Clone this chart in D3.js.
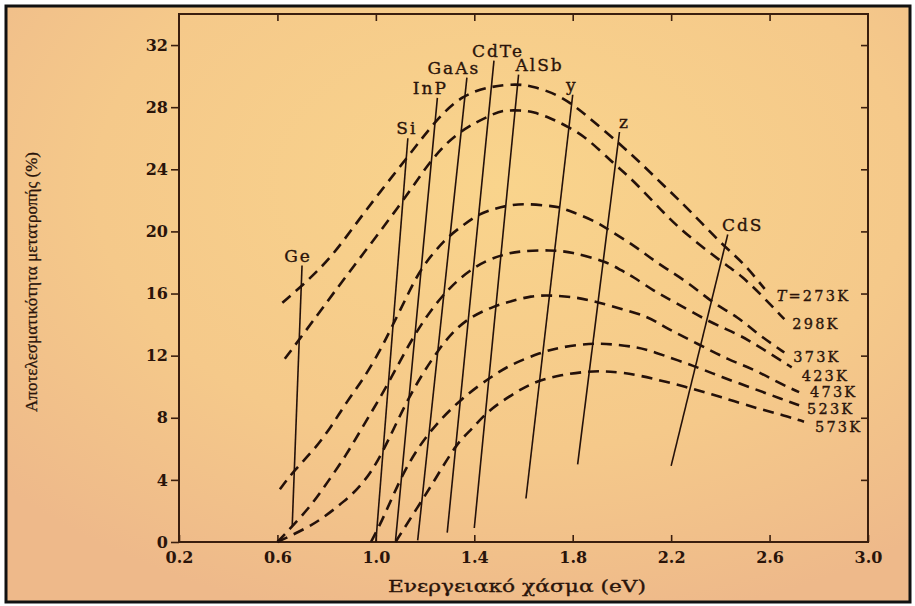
<!DOCTYPE html>
<html>
<head>
<meta charset="utf-8">
<script src="https://d3js.org/d3.v7.min.js"></script>
<style>
  body { margin: 0; background: #fff; }
  svg { display: block; }
  .axis text { font-family: "DejaVu Serif", serif; font-size: 16px; font-weight: bold; fill: #2a140a; }
  .axis line { stroke: #3a1e0e; stroke-width: 1.6; }
  .axis path { display: none; }
  .lbl { font-family: "DejaVu Serif", serif; fill: #2a140a; stroke: #2a140a; stroke-width: 0.35; }
</style>
</head>
<body>
<script>
// efficiency (%) vs band gap (eV), one array per temperature
var curveNames = ['273K', '298K', '373K', '423K', '473K', '523K', '573K'];
var c273 = [[0.62,15.4],[0.70,16.5],[0.82,18.3],[0.95,21.2],[1.13,24.8],[1.24,27.1],[1.35,28.8],[1.47,29.35],[1.57,29.5],[1.64,29.35],[1.74,28.8],[1.81,28.05],[1.88,27.15],[1.99,25.65],[2.07,24.5],[2.17,22.95],[2.27,21.45],[2.41,19.1],[2.49,18.05],[2.58,16.3]];
var c298 = [[0.63,11.8],[0.69,13.05],[0.87,16.95],[1.11,21.9],[1.23,24.8],[1.34,26.5],[1.48,27.6],[1.52,27.8],[1.59,27.8],[1.64,27.7],[1.71,27.3],[1.78,26.75],[1.86,26.0],[1.97,24.3],[2.04,23.4],[2.18,21.0],[2.27,19.7],[2.40,18.1],[2.49,17.1],[2.57,15.85],[2.66,14.35]];
var c373 = [[0.61,3.4],[0.67,4.65],[0.75,5.95],[0.82,7.45],[0.88,9.0],[0.95,10.5],[1.02,12.4],[1.06,13.7],[1.12,15.6],[1.18,17.6],[1.28,19.5],[1.35,20.35],[1.42,21.15],[1.48,21.45],[1.53,21.65],[1.60,21.8],[1.70,21.65],[1.74,21.6],[1.80,21.25],[1.90,20.6],[1.95,20.05],[2.04,19.2],[2.11,18.35],[2.18,17.6],[2.26,16.8],[2.34,15.8],[2.39,15.2],[2.47,14.5],[2.54,13.55],[2.61,12.75],[2.66,12.2]];
var c423 = [[0.60,0],[0.66,1.0],[0.74,2.4],[0.81,4.0],[0.88,5.6],[0.94,7.25],[1.05,10.15],[1.15,13.25],[1.27,16.0],[1.40,17.8],[1.51,18.5],[1.59,18.75],[1.71,18.8],[1.79,18.7],[1.94,18.05],[2.0,17.45],[2.04,17.15],[2.13,16.15],[2.21,15.5],[2.35,14.2],[2.47,13.4],[2.54,12.75],[2.62,11.95],[2.69,11.25]];
var c473 = [[0.60,0],[0.72,0.9],[0.79,1.6],[0.87,2.6],[0.94,3.6],[1.02,5.4],[1.13,9.35],[1.26,12.6],[1.36,14.35],[1.49,15.25],[1.55,15.5],[1.63,15.85],[1.71,15.9],[1.82,15.75],[1.90,15.45],[2.0,15.0],[2.11,14.5],[2.17,13.85],[2.31,12.75],[2.43,11.75],[2.54,11.1],[2.63,10.3],[2.72,9.65]];
var c523 = [[0.98,0],[1.03,1.5],[1.11,4.5],[1.21,7.05],[1.35,9.3],[1.47,10.65],[1.55,11.45],[1.67,12.2],[1.75,12.55],[1.87,12.8],[1.96,12.75],[2.06,12.55],[2.12,12.3],[2.30,11.3],[2.40,10.65],[2.54,9.85],[2.65,9.2],[2.72,8.8]];
var c573 = [[1.08,0],[1.17,2.25],[1.24,4.0],[1.33,6.4],[1.39,7.25],[1.44,8.2],[1.51,9.05],[1.59,9.85],[1.66,10.4],[1.75,10.75],[1.86,11.0],[1.95,11.0],[2.06,10.8],[2.27,9.95],[2.40,9.35],[2.56,8.55],[2.66,8.15],[2.74,7.75]];
var curves = [c273, c298, c373, c423, c473, c523, c573];

// semiconductor lines: [gap, eff] at lowest and highest point
var materials = ['Ge', 'Si', 'InP', 'GaAs', 'CdTe', 'AlSb', 'y', 'z', 'CdS'];
var matLow  = [[0.66,1.0],[1.0,0],[1.08,0.1],[1.17,0.1],[1.29,0.6],[1.40,0.9],[1.61,2.8],[1.82,5.0],[2.20,4.9]];
var matHigh = [[0.70,17.8],[1.13,26.0],[1.25,28.6],[1.37,29.9],[1.48,31.0],[1.58,30.1],[1.80,28.8],[1.99,26.4],[2.43,19.8]];

var xTicks = [0.2, 0.6, 1.0, 1.4, 1.8, 2.2, 2.6, 3.0];
var yTicks = [0, 4, 8, 12, 16, 20, 24, 28, 32];

var W = 915, H = 606;
var svg = d3.select('body').append('svg').attr('width', W).attr('height', H);

// paper background
var defs = svg.append('defs');
var grad = defs.append('radialGradient').attr('id', 'paper')
    .attr('cx', '55%').attr('cy', '30%').attr('r', '75%');
grad.append('stop').attr('offset', '0%').attr('stop-color', '#f9d48c');
grad.append('stop').attr('offset', '60%').attr('stop-color', '#f5c98a');
grad.append('stop').attr('offset', '100%').attr('stop-color', '#eeb98a');

svg.append('rect').attr('x', 6).attr('y', 6).attr('width', 904).attr('height', 596)
    .attr('fill', 'url(#paper)').attr('stroke', '#111').attr('stroke-width', 3);

var x = d3.scaleLinear().domain([0.2, 3.0]).range([179, 868]);
var y = d3.scaleLinear().domain([0, 34]).range([542, 14]);

// axes
svg.append('g').attr('class', 'axis').attr('transform', 'translate(0,542)')
    .call(d3.axisBottom(x).tickValues(xTicks).tickSize(-7).tickSizeOuter(0)
        .tickPadding(10).tickFormat(d3.format('.1f')));
svg.append('g').attr('class', 'axis').attr('transform', 'translate(179,0)')
    .call(d3.axisLeft(y).tickValues(yTicks).tickSize(8).tickSizeOuter(0).tickPadding(3));
svg.append('g').attr('class', 'axis').attr('transform', 'translate(0,14)')
    .call(d3.axisTop(x).tickValues(xTicks.slice(1, -1)).tickSize(-7).tickSizeOuter(0).tickFormat(''));
svg.append('g').attr('class', 'axis').attr('transform', 'translate(868,0)')
    .call(d3.axisRight(y).tickValues(yTicks.slice(1)).tickSize(-7).tickSizeOuter(0).tickFormat(''));

svg.append('rect').attr('x', 179).attr('y', 14).attr('width', 868 - 179).attr('height', 542 - 14)
    .attr('fill', 'none').attr('stroke', '#3a1e0e').attr('stroke-width', 2);

// axis titles
svg.append('text').attr('class', 'lbl').attr('x', 517).attr('y', 592).attr('text-anchor', 'middle')
    .attr('font-size', 17).attr('textLength', 258).attr('lengthAdjust', 'spacingAndGlyphs')
    .text('Ενεργειακό χάσμα (eV)');
svg.append('text').attr('transform', 'translate(37,282) rotate(-90)').attr('text-anchor', 'middle')
    .attr('font-family', '"Liberation Serif", serif').attr('font-size', 17).attr('fill', '#2a140a')
    .attr('stroke', '#2a140a').attr('stroke-width', 0.3)
    .attr('textLength', 260).attr('lengthAdjust', 'spacingAndGlyphs')
    .text('Αποτελεσματικότητα μετατροπής (%)');

// dashed temperature curves
var line = d3.line().x(function(d){ return x(d[0]); }).y(function(d){ return y(d[1]); })
    .curve(d3.curveBasis);

svg.append('g').selectAll('path').data(curves).enter().append('path')
    .attr('d', line).attr('fill', 'none').attr('stroke', '#24110a')
    .attr('stroke-width', 2.6).attr('stroke-dasharray', '11,7');

// solid material lines
svg.append('g').selectAll('line').data(materials).enter().append('line')
    .attr('x1', function(d, i){ return x(matLow[i][0]); })
    .attr('y1', function(d, i){ return y(matLow[i][1]); })
    .attr('x2', function(d, i){ return x(matHigh[i][0]); })
    .attr('y2', function(d, i){ return y(matHigh[i][1]); })
    .attr('stroke', '#24110a').attr('stroke-width', 1.6);

var labelDx = [-4, -1, -7, -13, 4, 21, -1, 5, 15];
svg.append('g').selectAll('text').data(materials).enter().append('text')
    .attr('class', 'lbl')
    .attr('x', function(d, i){ return x(matHigh[i][0]) + labelDx[i]; })
    .attr('y', function(d, i){ return y(matHigh[i][1]) - 4; })
    .attr('text-anchor', 'middle').attr('font-size', 17).attr('letter-spacing', 2)
    .text(function(d){ return d; });

// temperature labels at the right end of each curve
var endDx = [12, 8, 9, 10, 11, 8, 11];
var endDy = [12, 10, 9.5, 13.5, 5, 9, 10];
var tl = svg.append('g').selectAll('text').data(curveNames).enter().append('text')
    .attr('class', 'lbl')
    .attr('x', function(d, i){ var e = curves[i][curves[i].length - 1]; return x(e[0]) + endDx[i]; })
    .attr('y', function(d, i){ var e = curves[i][curves[i].length - 1]; return y(e[1]) + endDy[i]; })
    .attr('font-size', 14.5).attr('letter-spacing', 2.2);
tl.each(function(d, i){
    var t = d3.select(this);
    if (i === 0) {
        t.append('tspan').attr('font-style', 'italic').text('T');
        t.append('tspan').text('=' + d);
    } else {
        t.text(d);
    }
});
</script>
</body>
</html>
